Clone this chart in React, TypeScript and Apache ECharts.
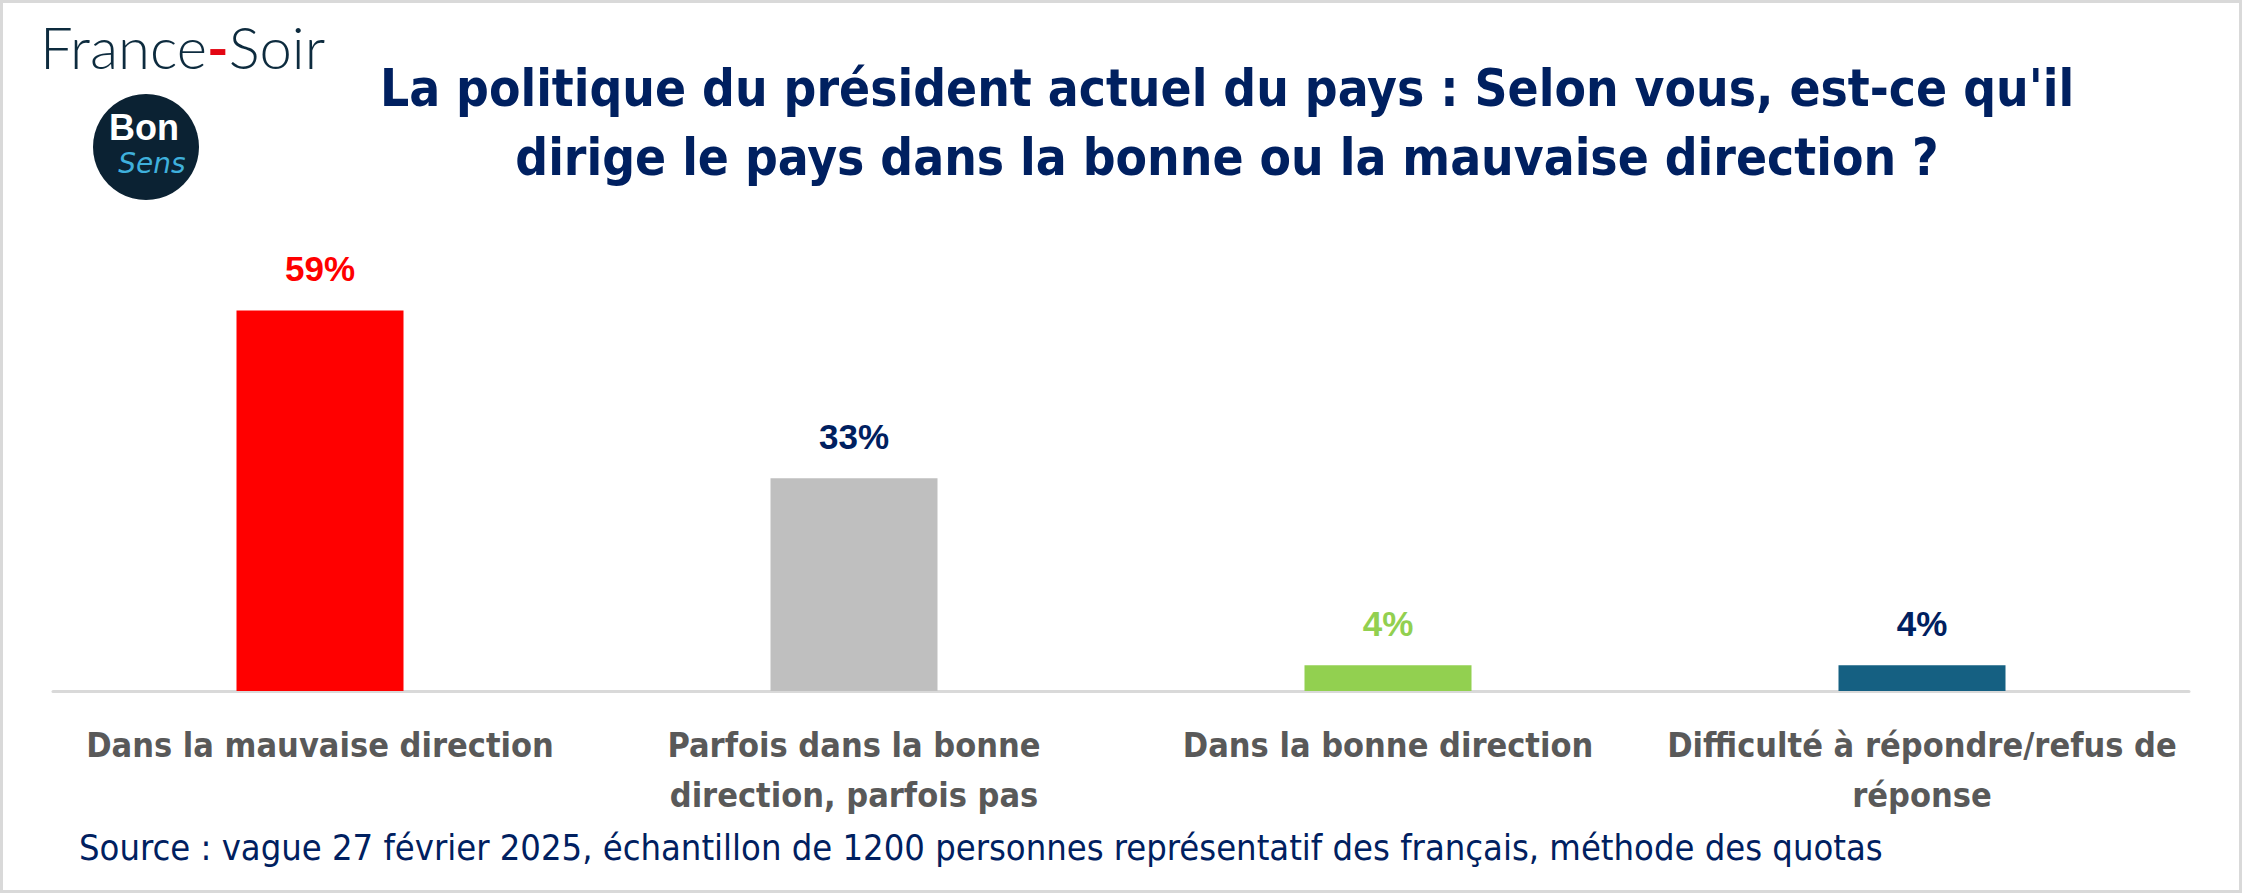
import React, { useEffect, useRef } from "react";
import * as echarts from "echarts";

const categories = [
  "Dans la mauvaise direction",
  "Parfois dans la bonne\ndirection, parfois pas",
  "Dans la bonne direction",
  "Difficulté à répondre/refus de\nréponse",
];
const values = [59, 33, 4, 4];
const barColors = ["#FF0000", "#BFBFBF", "#92D050", "#156082"];
const labelColors = ["#FF0000", "#002060", "#92D050", "#002060"];
const titleLines = [
  "La politique du président actuel du pays : Selon vous, est-ce qu'il",
  "dirige le pays dans la bonne ou la mauvaise direction ?",
];
const sourceText =
  "Source : vague 27 février 2025, échantillon de 1200 personnes représentatif des français, méthode des quotas";

const NARROW = "'DejaVu Sans Condensed', 'DejaVu Sans', sans-serif";

export default function App() {
  const ref = useRef<HTMLDivElement>(null);
  useEffect(() => {
    if (!ref.current) return;
    const chart = echarts.init(ref.current, undefined, { renderer: "svg" });
    chart.setOption({
      animation: false,
      backgroundColor: "#ffffff",
      grid: { left: 53, right: 53, top: 304, bottom: 202 },
      xAxis: {
        type: "category",
        data: categories,
        axisLine: { lineStyle: { color: "#D9D9D9", width: 3 } },
        axisTick: { show: false },
        axisLabel: {
          interval: 0,
          margin: 29,
          color: "#595959",
          fontFamily: NARROW,
          fontWeight: "bold",
          fontSize: 34,
          lineHeight: 50,
        },
      },
      yAxis: {
        type: "value",
        min: 0,
        max: 60,
        show: false,
        splitLine: { show: false },
      },
      series: [
        {
          type: "bar",
          barWidth: 167,
          data: values.map((v, i) => ({
            value: v,
            itemStyle: { color: barColors[i] },
            label: { color: labelColors[i] },
          })),
          label: {
            show: true,
            position: "top",
            distance: 24,
            formatter: "{c}%",
            fontFamily: "'Liberation Sans', Arial, sans-serif",
            fontWeight: "bold",
            fontSize: 35,
          },
        },
      ],
      graphic: [
        {
          type: "rect",
          shape: { x: 1.5, y: 1.5, width: 2239, height: 890 },
          style: { fill: "none", stroke: "#D9D9D9", lineWidth: 3 },
          silent: true,
        },
        {
          type: "text",
          x: 40,
          y: 46,
          style: {
            text: "France{r|-}Soir",
            fontFamily: "Lato, 'Open Sans', sans-serif",
            fontWeight: 300,
            fontSize: 58,
            fill: "#0D2B3E",
            verticalAlign: "middle",
            rich: { r: { fill: "#E30613", fontFamily: "Lato", fontWeight: "bold", fontSize: 58 } },
          },
        },
        {
          type: "circle",
          shape: { cx: 146, cy: 147, r: 53 },
          style: { fill: "#0B2233" },
        },
        {
          type: "text",
          x: 144,
          y: 127,
          style: {
            text: "Bon",
            fontFamily: "'Liberation Sans', Arial, sans-serif",
            fontWeight: "bold",
            fontSize: 36,
            fill: "#FFFFFF",
            align: "center",
            verticalAlign: "middle",
          },
        },
        {
          type: "text",
          x: 152,
          y: 163,
          style: {
            text: "Sens",
            fontFamily: "'DejaVu Sans', sans-serif",
            fontStyle: "italic",
            fontSize: 28,
            fill: "#3FB0DC",
            align: "center",
            verticalAlign: "middle",
          },
        },
        ...titleLines.map((t, i) => ({
          type: "text",
          x: 1227,
          y: 88 + i * 69,
          style: {
            text: t,
            fontFamily: NARROW,
            fontWeight: "bold",
            fontSize: 51,
            fill: "#002060",
            align: "center",
            verticalAlign: "middle",
          },
        })),
        {
          type: "text",
          x: 79,
          y: 847,
          style: {
            text: sourceText,
            fontFamily: NARROW,
            fontSize: 36,
            fill: "#002060",
            align: "left",
            verticalAlign: "middle",
          },
        },
      ],
    });
    return () => chart.dispose();
  }, []);
  return (
    <div
      ref={ref}
      style={{ position: "absolute", left: 0, top: 0, width: 2242, height: 893 }}
    />
  );
}
